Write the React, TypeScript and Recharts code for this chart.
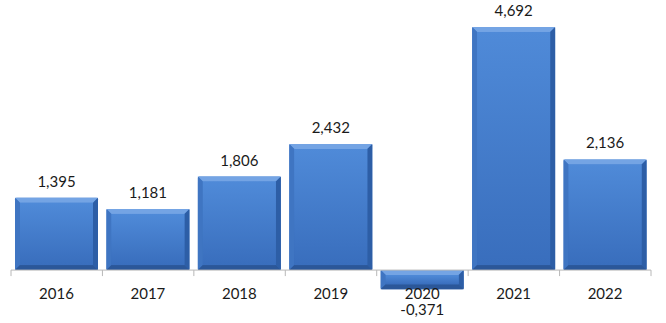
import React from "react";
import { BarChart, Bar, XAxis, YAxis, ReferenceLine, LabelList } from "recharts";

const years: string[] = ["2016", "2017", "2018", "2019", "2020", "2021", "2022"];
const values: number[] = [1.395, 1.181, 1.806, 2.432, -0.371, 4.692, 2.136];
const yDomain: [number, number] = [-0.5, 5];

const data = years.map((y, i) => ({ year: y, value: values[i] }));

const FONT = "Lato, 'Open Sans', sans-serif";

const fmt = (v: number) => v.toFixed(3).replace(".", ",");

const BevelBar = (props: any) => {
  const { x, y, width, height } = props;
  const top = Math.min(y, y + height);
  const h = Math.abs(height);
  const w = width;
  const b = Math.min(5, h / 2, w / 2);
  const x0 = x, x1 = x + w, y0 = top, y1 = top + h;
  return (
    <g>
      <rect x={x0} y={y0} width={w} height={h} fill="url(#barGrad)" rx={1.5} />
      <polygon points={`${x0},${y0} ${x1},${y0} ${x1 - b},${y0 + b} ${x0 + b},${y0 + b}`} fill="#74a4e4" />
      <polygon points={`${x0},${y0} ${x0 + b},${y0 + b} ${x0 + b},${y1 - b} ${x0},${y1}`} fill="#3f75c2" />
      <polygon points={`${x1},${y0} ${x1 - b},${y0 + b} ${x1 - b},${y1 - b} ${x1},${y1}`} fill="#2d5ea6" />
      <polygon points={`${x0},${y1} ${x1},${y1} ${x1 - b},${y1 - b} ${x0 + b},${y1 - b}`} fill="#2b5799" />
      <rect x={x0 + b} y={y0 + b} width={Math.max(0, w - 2 * b)} height={Math.max(0, h - 2 * b)} fill="url(#innerGrad)" />
    </g>
  );
};

const ValueLabel = (props: any) => {
  const { x, y, width, height, index } = props;
  const v = values[index];
  const top = Math.min(y, y + height);
  const bottom = Math.max(y, y + height);
  const cx = x + width / 2;
  const ty = v >= 0 ? top - 11 : bottom + 26;
  return (
    <text x={cx} y={ty} textAnchor="middle" fontFamily={FONT} fontSize={15} fill="#1a1a1a">
      {fmt(v)}
    </text>
  );
};

const YearLabel = (props: any) => {
  const { x, y, width, height, index } = props;
  const v = values[index];
  const top = Math.min(y, y + height);
  const bottom = Math.max(y, y + height);
  const zero = v >= 0 ? bottom : top;
  return (
    <text x={x + width / 2} y={zero + 28.5} textAnchor="middle" fontFamily={FONT} fontSize={15} fill="#1a1a1a">
      {years[index]}
    </text>
  );
};

const AxisLine = (props: any) => {
  const { x1, y1, x2 } = props;
  const n = years.length;
  const ticks = [];
  for (let i = 0; i <= n; i++) {
    const tx = x1 + ((x2 - x1) * i) / n;
    ticks.push(<line key={i} x1={tx} y1={y1} x2={tx} y2={y1 + 6} stroke="#b8b8b8" strokeWidth={1} />);
  }
  return (
    <g>
      <line x1={x1} y1={y1} x2={x2} y2={y1} stroke="#b8b8b8" strokeWidth={1} />
      {ticks}
    </g>
  );
};

export default function App() {
  return (
    <div style={{ position: "absolute", left: 0, top: 0, width: 666, height: 323 }}>
      <BarChart
        width={666}
        height={323}
        data={data}
        margin={{ top: 11, right: 15, left: 11, bottom: 27 }}
      >
        <defs>
          <linearGradient id="barGrad" x1="0" y1="0" x2="0" y2="1">
            <stop offset="0%" stopColor="#4a85d4" />
            <stop offset="100%" stopColor="#3468b6" />
          </linearGradient>
          <linearGradient id="innerGrad" x1="0" y1="0" x2="0" y2="1">
            <stop offset="0%" stopColor="#4f8ad8" />
            <stop offset="100%" stopColor="#396ebd" />
          </linearGradient>
        </defs>
        <XAxis dataKey="year" hide />
        <YAxis hide domain={yDomain} />
        <ReferenceLine y={0} shape={AxisLine} ifOverflow="visible" />
        <Bar dataKey="value" barSize={83} shape={BevelBar} isAnimationActive={false}>
          <LabelList dataKey="value" content={ValueLabel} />
          <LabelList dataKey="year" content={YearLabel} />
        </Bar>
      </BarChart>
    </div>
  );
}
